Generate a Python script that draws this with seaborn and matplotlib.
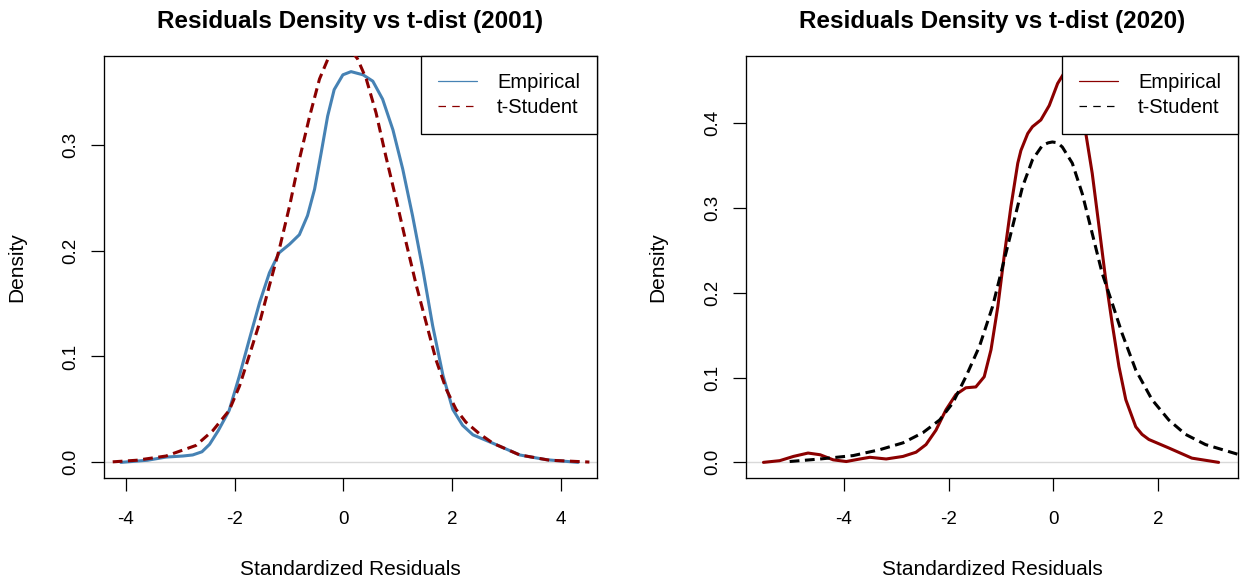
import numpy as np
import matplotlib
matplotlib.use("Agg")
import matplotlib.pyplot as plt
from matplotlib.lines import Line2D
import seaborn as sns

# ---------------- data ----------------
# 2001 panel
emp01_x = [-4.09, -3.60, -3.26, -2.95, -2.77, -2.60, -2.46, -2.30, -2.10, -1.91,
           -1.73, -1.54, -1.36, -1.18, -0.99, -0.81, -0.66, -0.53, -0.41, -0.29,
           -0.17, -0.01, 0.14, 0.36, 0.54, 0.72, 0.91, 1.09, 1.27, 1.46,
           1.64, 1.83, 2.01, 2.19, 2.38, 2.75, 3.24, 3.73, 4.31]
emp01_y = [0.0, 0.002, 0.005, 0.006, 0.007, 0.010, 0.017, 0.030, 0.049, 0.082,
           0.116, 0.151, 0.179, 0.198, 0.206, 0.215, 0.233, 0.258, 0.292, 0.327,
           0.352, 0.366, 0.369, 0.366, 0.360, 0.343, 0.314, 0.277, 0.233, 0.182,
           0.129, 0.082, 0.050, 0.035, 0.026, 0.018, 0.007, 0.0025, 0.0]
t01_x = [-4.24, -3.80, -3.26, -2.71, -2.40, -2.10, -1.91, -1.73, -1.54, -1.36,
         -1.18, -0.99, -0.81, -0.62, -0.44, -0.26, -0.10, 0.05, 0.26, 0.42,
         0.60, 0.78, 0.97, 1.15, 1.34, 1.52, 1.70, 1.89, 2.07, 2.25,
         2.50, 2.75, 3.24, 3.79, 4.52]
t01_y = [0.0005, 0.002, 0.006, 0.016, 0.030, 0.049, 0.072, 0.101, 0.132, 0.167,
         0.201, 0.242, 0.286, 0.327, 0.362, 0.384, 0.394, 0.395, 0.381, 0.362,
         0.330, 0.289, 0.248, 0.208, 0.167, 0.132, 0.097, 0.069, 0.050, 0.038,
         0.027, 0.018, 0.007, 0.002, 0.0003]

# 2020 panel
emp20_x = [-5.53, -5.22, -4.96, -4.68, -4.45, -4.20, -3.95, -3.69, -3.50, -3.19,
           -2.87, -2.62, -2.43, -2.24, -2.05, -1.86, -1.67, -1.48, -1.32, -1.19,
           -1.06, -0.94, -0.81, -0.68, -0.62, -0.49, -0.40, -0.24, -0.08, 0.08,
           0.20, 0.30, 0.39, 0.50, 0.61, 0.74, 0.87, 0.99, 1.12, 1.25,
           1.38, 1.57, 1.69, 1.82, 2.20, 2.64, 3.15]
emp20_y = [0.0, 0.002, 0.007, 0.011, 0.009, 0.003, 0.001, 0.004, 0.006, 0.004,
           0.007, 0.012, 0.021, 0.038, 0.062, 0.080, 0.088, 0.089, 0.101, 0.133,
           0.184, 0.243, 0.302, 0.353, 0.368, 0.388, 0.396, 0.404, 0.421, 0.447,
           0.459, 0.462, 0.458, 0.437, 0.391, 0.341, 0.278, 0.219, 0.164, 0.113,
           0.074, 0.042, 0.033, 0.027, 0.017, 0.005, 0.0]
t20_x = [-5.03, -4.45, -3.82, -3.31, -2.87, -2.49, -2.17, -1.92, -1.67, -1.41,
         -1.16, -0.97, -0.78, -0.59, -0.40, -0.21, -0.10, -0.02, 0.08, 0.17,
         0.36, 0.55, 0.74, 0.93, 1.12, 1.31, 1.57, 1.88, 2.20, 2.52,
         2.90, 3.60]
t20_y = [0.001, 0.004, 0.008, 0.015, 0.023, 0.035, 0.050, 0.070, 0.101, 0.137,
         0.184, 0.231, 0.278, 0.325, 0.357, 0.374, 0.377, 0.378, 0.377, 0.372,
         0.353, 0.317, 0.270, 0.223, 0.188, 0.152, 0.109, 0.074, 0.050, 0.033,
         0.021, 0.008]

titles = ["Residuals Density vs t-dist (2001)", "Residuals Density vs t-dist (2020)"]
legend_labels = ["Empirical", "t-Student"]
x_ticks_01 = [-4, -2, 0, 2, 4]
x_ticks_20 = [-4, -2, 0, 2]
y_ticks_01 = [0.0, 0.1, 0.2, 0.3]
y_ticks_20 = [0.0, 0.1, 0.2, 0.3, 0.4]

# ---------------- style ----------------
sns.set_theme(style="white")
plt.rcParams['font.family'] = ['Liberation Sans', 'DejaVu Sans']
plt.rcParams['axes.unicode_minus'] = False

W, H = 1240, 581
fig = plt.figure(figsize=(W / 100, H / 100), dpi=100)
ax1 = fig.add_axes([104 / W, 1 - 478 / H, 493 / W, 422 / H])
ax2 = fig.add_axes([746 / W, 1 - 478 / H, 492 / W, 422 / H])

DASH_CURVE = (0, (3.2, 1.8))
DASH_LEG = (0, (6, 5))


def panel(ax, ex, ey, tx, ty, ecol, tcol, title, xlim, ylim, xticks, yticks, ylab_x):
    ax.axhline(0, color='#d9d9d9', lw=1.0, zorder=1)
    sns.lineplot(x=ex, y=ey, ax=ax, color=ecol, lw=2.2, sort=False,
                 estimator=None, zorder=3)
    sns.lineplot(x=tx, y=ty, ax=ax, color=tcol, lw=2.2, sort=False,
                 estimator=None, zorder=4)
    ax.lines[-1].set_linestyle(DASH_CURVE)
    for ln in ax.lines[1:]:
        ln.set_solid_joinstyle('round')
        ln.set_dash_joinstyle('round')
    ax.set_xticks(xticks)
    ax.set_xticklabels([str(v) for v in xticks])
    ax.set_yticks(yticks)
    ax.set_yticklabels([f"{v:.1f}" for v in yticks])
    ax.set_xlim(*xlim)
    ax.set_ylim(*ylim)
    for sp in ax.spines.values():
        sp.set_visible(True)
        sp.set_color('black')
        sp.set_linewidth(0.95)
    ax.tick_params(axis='x', direction='out', length=9.4, width=0.9,
                   color='black', labelcolor='black', labelsize=13.5, pad=14.5,
                   bottom=True)
    ax.tick_params(axis='y', direction='out', length=9.4, width=0.9,
                   color='black', labelcolor='black', labelsize=13.5, pad=8.3,
                   left=True, labelrotation=90)
    for lab in ax.get_yticklabels():
        lab.set_va('center')
    ax.set_xlabel("Standardized Residuals", fontsize=15, color='black')
    ax.xaxis.label.set_va('baseline')
    ax.xaxis.set_label_coords(0.5, (478 - 575) / 422)
    ax.set_ylabel("Density", fontsize=15, color='black')
    ax.yaxis.set_label_coords(ylab_x, 0.5)
    ax.set_title(title, fontsize=17.5, fontweight='bold', pad=20, color='black')

    handles = [Line2D([], [], color=ecol, lw=0.9),
               Line2D([], [], color=tcol, lw=0.9, linestyle=DASH_LEG)]
    leg = ax.legend(handles, legend_labels, loc='upper right',
                    bbox_to_anchor=(1, 1), borderaxespad=0, fontsize=14.5,
                    frameon=True, fancybox=False, framealpha=1,
                    edgecolor='black', borderpad=0.85, labelspacing=0.3,
                    handlelength=1.9, handletextpad=1.0)
    leg.get_frame().set_linewidth(0.95)
    for t in leg.get_texts():
        t.set_color('black')
    leg.set_zorder(10)


panel(ax1, emp01_x, emp01_y, t01_x, t01_y, '#4682B4', '#8B0000', titles[0],
      (-4.40, 4.66), (-0.01476, 0.38376), x_ticks_01, y_ticks_01, (26 - 104) / 493)
panel(ax2, emp20_x, emp20_y, t20_x, t20_y, '#8B0000', 'black', titles[1],
      (-5.863, 3.52), (-0.01844, 0.47944), x_ticks_20, y_ticks_20, (667 - 746) / 492)

fig.savefig("out.png", dpi=100, facecolor='white')
